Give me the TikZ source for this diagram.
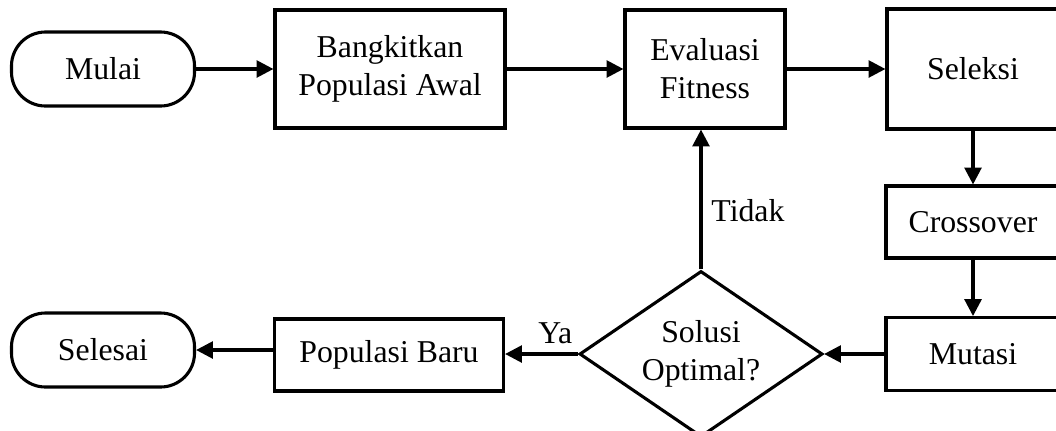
\documentclass[tikz,border=0pt]{standalone}
\usepackage{fontspec}
\setmainfont{Liberation Serif}
\usetikzlibrary{arrows.meta, shapes.geometric}

\begin{document}
\begin{tikzpicture}[x=0.025cm, y=-0.025cm,
  every node/.style={font=\fontsize{22.6}{27}\selectfont, align=center},
  termbox/.style={draw, line width=2.2pt, rounded corners=0.85cm,
    minimum width=4.575cm, minimum height=1.85cm},
  procbox/.style={draw, line width=2.2pt, inner sep=0pt},
  decbox/.style={draw, diamond, aspect=1.52, line width=2.2pt, inner sep=0pt,
    minimum width=6.075cm, minimum height=4.15cm},
  flowarrow/.style={line width=2.2pt, -{Triangle[length=12pt, width=12pt]}}]
\useasboundingbox (0,0) rectangle (1056,430);
% top row
\node[termbox] (mulai) at (103,69) {Mulai};
\node[procbox, minimum width=5.75cm, minimum height=2.95cm] (awal) at (390,69)
  {Bangkitkan\\Populasi Awal};
\node[procbox, minimum width=4cm, minimum height=2.95cm] (eval) at (705,69)
  {Evaluasi\\Fitness};
\node[procbox, minimum width=4.3cm, minimum height=3cm] (seleksi) at (973,69) {Seleksi};
% right column
\node[procbox, minimum width=4.35cm, minimum height=1.8cm] (cross) at (973,222) {Crossover};
\node[procbox, minimum width=4.35cm, minimum height=1.82cm] (mutasi) at (973,354) {Mutasi};
% bottom row
\node[decbox] (optimal) at (701,354) {Solusi\\Optimal?};
\node[procbox, minimum width=5.725cm, minimum height=1.8cm] (baru) at (389,355) {Populasi Baru};
\node[termbox] (selesai) at (103,350) {Selesai};
% connectors
\draw[flowarrow] (mulai) -- (awal);
\draw[flowarrow] (awal) -- (eval);
\draw[flowarrow] (eval) -- (seleksi);
\draw[flowarrow] (seleksi) -- (cross);
\draw[flowarrow] (cross) -- (mutasi);
\draw[flowarrow] (mutasi.west) -- (optimal.east);
\draw[flowarrow] (optimal.north) -- (optimal.north |- eval.south)
  node[pos=0.42, right=3pt] {Tidak};
\draw[flowarrow] (optimal.west) -- (optimal.west -| baru.east)
  node[pos=0.31, above=3pt] {Ya};
\draw[flowarrow] (baru.west |- selesai.east) -- (selesai.east);
\end{tikzpicture}
\end{document}
